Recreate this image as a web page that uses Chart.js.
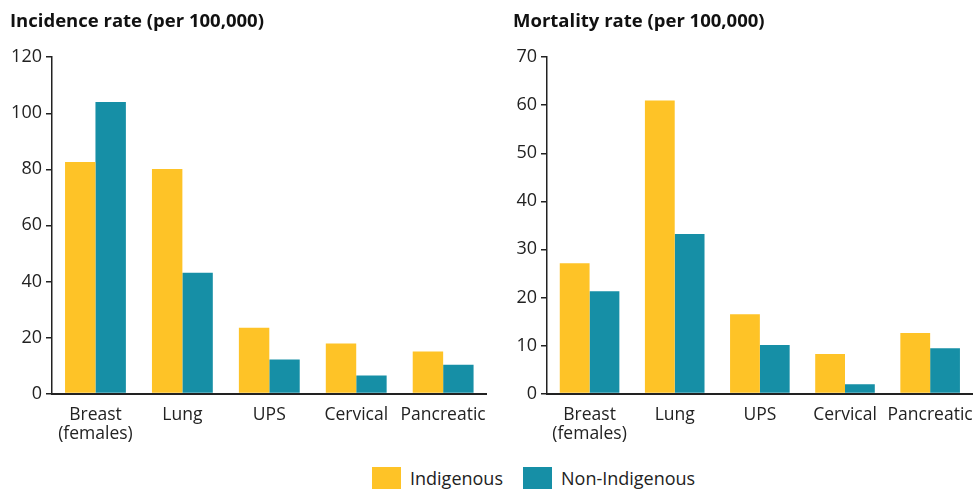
<!DOCTYPE html>
<html lang="en">
<head>
  <meta charset="UTF-8" />
  <title>Incidence and mortality rates</title>
  <script src="https://cdn.jsdelivr.net/npm/chart.js@4"></script>
  <style>
    body { margin: 0; background: #fff; font-family: "Open Sans", sans-serif; }
    #wrap { position: relative; width: 977px; height: 489px; overflow: hidden; }
    .panel { position: absolute; top: 0; height: 448px; }
    #left { left: 0; width: 490px; }
    #right { left: 490px; width: 487px; }
    #legend { position: absolute; top: 466px; left: 372px; display: flex; font-size: 18px; color: #222; }
    .item { display: flex; align-items: center; margin-right: 20px; }
    .box { width: 29px; height: 22px; margin-right: 9px; }
  </style>
</head>
<body>
<div id="wrap">
  <div class="panel" id="left"><canvas id="incChart"></canvas></div>
  <div class="panel" id="right"><canvas id="mortChart"></canvas></div>
  <div id="legend"></div>
</div>
<script>
  const categories = [["Breast", "(females)"], "Lung", "UPS", "Cervical", "Pancreatic"];
  const seriesNames = ["Indigenous", "Non-Indigenous"];
  const incidenceIndigenous = [82.6, 80.1, 23.5, 17.8, 15.0];
  const incidenceNonIndigenous = [104.0, 43.1, 12.1, 6.4, 10.3];
  const mortalityIndigenous = [27.1, 61.0, 16.5, 8.2, 12.6];
  const mortalityNonIndigenous = [21.3, 33.2, 10.1, 1.9, 9.4];
  const incidenceTicks = [0, 20, 40, 60, 80, 100, 120];
  const mortalityTicks = [0, 10, 20, 30, 40, 50, 60, 70];

  const YELLOW = "#fec327";
  const TEAL = "#168fa6";
  const INK = "#222";

  // padLeft shifts the title; axisWidth is what is left for the y axis
  function makeChart(id, title, a, b, ticks, padLeft, axisWidth) {
    return new Chart(document.getElementById(id), {
      type: "bar",
      data: {
        labels: categories,
        datasets: [
          { label: seriesNames[0], data: a, backgroundColor: YELLOW },
          { label: seriesNames[1], data: b, backgroundColor: TEAL },
        ],
      },
      options: {
        responsive: true,
        maintainAspectRatio: false,
        animation: false,
        datasets: { bar: { categoryPercentage: 0.7, barPercentage: 1.0 } },
        layout: { padding: { left: padLeft, right: 3, top: 0, bottom: 0 } },
        plugins: {
          legend: { display: false },
          tooltip: { enabled: false },
          title: {
            display: true,
            text: title,
            align: "start",
            color: "#111",
            font: { family: "Open Sans", size: 18.5, weight: "bold" },
            padding: { top: 11, bottom: 24 },
          },
        },
        scales: {
          x: {
            grid: { display: false },
            border: { color: INK, width: 2 },
            ticks: { color: INK, font: { family: "Open Sans", size: 17.5, lineHeight: 1.1 }, padding: 4, maxRotation: 0, autoSkip: false },
          },
          y: {
            min: ticks[0],
            max: ticks[ticks.length - 1],
            afterBuildTicks: (s) => { s.ticks = ticks.map((v) => ({ value: v })); },
            afterFit: (s) => { s.width = axisWidth; },
            grid: { drawOnChartArea: false, drawTicks: true, tickLength: 6, color: INK, lineWidth: 1.5 },
            border: { color: INK, width: 1.5 },
            ticks: { color: INK, font: { family: "Open Sans", size: 18 }, padding: 4 },
          },
        },
      },
    });
  }

  makeChart("incChart", "Incidence rate (per 100,000)", incidenceIndigenous, incidenceNonIndigenous, incidenceTicks, 10, 42);
  makeChart("mortChart", "Mortality rate (per 100,000)", mortalityIndigenous, mortalityNonIndigenous, mortalityTicks, 23, 34);

  const legend = document.getElementById("legend");
  [YELLOW, TEAL].forEach((c, i) => {
    const item = document.createElement("div");
    item.className = "item";
    item.innerHTML = `<span class="box" style="background:${c}"></span><span>${seriesNames[i]}</span>`;
    legend.appendChild(item);
  });
</script>
</body>
</html>
